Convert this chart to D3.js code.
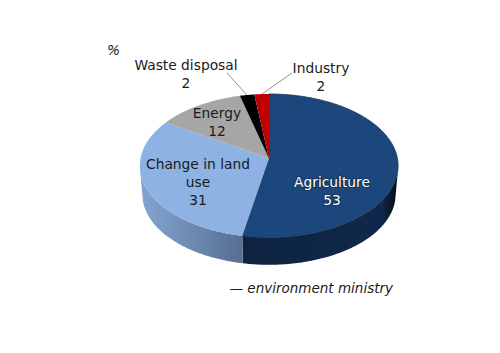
<!DOCTYPE html>
<html>
<head>
<meta charset="utf-8">
<script src="https://cdn.jsdelivr.net/npm/d3@7"></script>
<style>
  html, body { margin: 0; padding: 0; background: #fff; }
  text { font-family: "DejaVu Sans", sans-serif; font-size: 13.8px; fill: #1a1a1a; }
</style>
</head>
<body>
<script>
const categories = ["Agriculture", "Change in land use", "Energy", "Waste disposal", "Industry"];
const shares = [53, 31, 12, 2, 2];
const sliceColors = ["#1c477c", "#8db2e3", "#a6a6a6", "#000000", "#c00000"];

var width = 500, height = 353;
var cx = 269, cy = 158.5, rx = 128.5, ry = 71, k = 0.1;

var svg = d3.select("body").append("svg")
    .attr("width", width)
    .attr("height", height);

const pie = d3.pie().sort(null).value(d => d);
const arcs = pie(shares);

// pie lies on a tilted plane, so the back is squeezed a bit
function project(a, scale, dy) {
    const X = Math.sin(a), Y = -Math.cos(a), w = 1 - k * Y;
    return [cx + scale * rx * X / w, cy + dy + scale * ry * Y / w];
}
function rim(a0, a1, scale, dy) {
    const n = Math.ceil(Math.abs(a1 - a0) * 60) + 1;
    return d3.range(n + 1).map(i => project(a0 + (a1 - a0) * i / n, scale, dy));
}
const line = d3.line();

var defs = svg.append("defs");
var g1 = defs.append("linearGradient").attr("id", "sideBlue");
g1.append("stop").attr("offset", "0%").attr("stop-color", "#84a5d2");
g1.append("stop").attr("offset", "100%").attr("stop-color", "#566f92");
var g2 = defs.append("linearGradient").attr("id", "sideNavy");
g2.append("stop").attr("offset", "0%").attr("stop-color", "#0d2340");
g2.append("stop").attr("offset", "90%").attr("stop-color", "#10284a");
g2.append("stop").attr("offset", "100%").attr("stop-color", "#050a12");

// side wall between top rim and the smaller bottom rim
var wallScale = 0.98, wallDrop = 29;
function wall(a0, a1) {
    return line(rim(a0, a1, 1, 0).concat(rim(a1, a0, wallScale, wallDrop))) + "Z";
}
svg.append("path").attr("d", wall(Math.PI * 0.55, arcs[0].endAngle)).attr("fill", "url(#sideNavy)");
svg.append("path").attr("d", wall(arcs[0].endAngle, Math.PI * 1.45)).attr("fill", "url(#sideBlue)");

// top face
svg.selectAll("path.slice")
    .data(arcs)
    .enter()
    .append("path")
    .attr("class", "slice")
    .attr("fill", (d, i) => sliceColors[i])
    .attr("stroke", (d, i) => i == 0 ? "#17375e" : "none")
    .attr("stroke-width", 0.75)
    .attr("d", d => line([[cx, cy]].concat(rim(d.startAngle, d.endAngle, 1, 0))) + "Z");

// leader lines
svg.append("path").attr("d", "M227,73 L247,95").attr("stroke", "#777").attr("stroke-width", 0.8).attr("fill", "none");
svg.append("path").attr("d", "M292,73 L262,94").attr("stroke", "#777").attr("stroke-width", 0.8).attr("fill", "none");

function label(x, y, lines, color) {
    var t = svg.append("text").attr("text-anchor", "middle");
    if (color) {
        t.style("fill", color)
            .style("stroke", "#17375e")
            .style("stroke-width", 2)
            .style("paint-order", "stroke");
    }
    lines.forEach((s, i) => {
        t.append("tspan").attr("x", x).attr("y", y + i * 18).text(s);
    });
}

label(332, 187, [categories[0], shares[0]], "#fff");
label(198, 169, ["Change in land", "use", shares[1]]);
label(217, 118, [categories[2], shares[2]]);
label(186, 70, [categories[3], shares[3]]);
label(321, 73, [categories[4], shares[4]]);

svg.append("text").attr("x", 107).attr("y", 55).style("font-style", "italic").text("%");
svg.append("text").attr("x", 393).attr("y", 293).attr("text-anchor", "end")
    .style("font-style", "italic").style("font-size", "13.5px").text("— environment ministry");
</script>
</body>
</html>
